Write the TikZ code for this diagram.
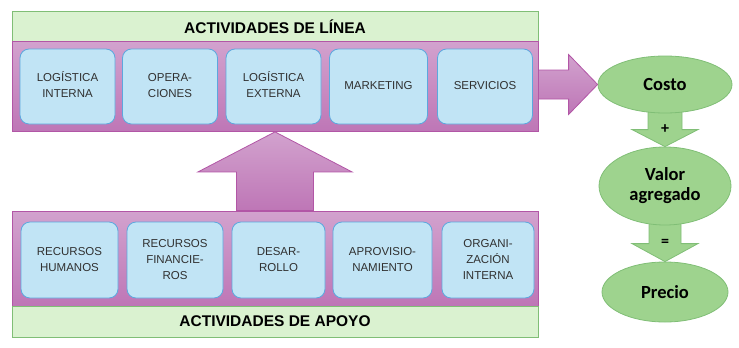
\documentclass[tikz,border=0pt]{standalone}
\usepackage{fontspec}
\setmainfont{Liberation Sans}
\newfontfamily\calibri{Carlito}
\usetikzlibrary{shapes.geometric,backgrounds}
\definecolor{verdebarra}{RGB}{218,242,208}
\definecolor{verdeborde}{RGB}{128,190,118}
\definecolor{verdeelipse}{RGB}{158,211,142}
\definecolor{moradoarriba}{RGB}{210,162,206}
\definecolor{moradoabajo}{RGB}{190,118,182}
\definecolor{moradoborde}{RGB}{178,86,166}
\definecolor{celeste}{RGB}{193,228,245}
\definecolor{celesteborde}{RGB}{92,168,222}
\definecolor{textogris}{RGB}{48,48,48}
\newcommand{\lineas}[1]{\raisebox{5pt}{\begin{tabular}{@{}c@{}}#1\end{tabular}}}
\begin{document}
\begin{tikzpicture}[x=1pt,y=-1pt,
  barra/.style={draw=verdeborde,fill=verdebarra,line width=0.8pt,minimum width=526pt,minimum height=30pt,inner sep=0pt,font=\fontsize{15.5}{16}\selectfont\bfseries},
  banda/.style={draw=moradoborde,line width=0.8pt,top color=moradoarriba,bottom color=moradoabajo,minimum width=526pt,inner sep=0pt},
  caja/.style={draw=celesteborde,fill=celeste,line width=0.8pt,rounded corners=9pt,minimum width=95pt,minimum height=75pt,inner sep=0pt,text=textogris,font=\fontsize{11.5}{16}\selectfont},
  elipse/.style={ellipse,draw=verdeborde,fill=verdeelipse,line width=0.8pt,inner sep=0pt,align=center,font=\calibri\fontsize{18.5}{20}\selectfont\bfseries},
  signo/.style={inner sep=0pt,font=\calibri\fontsize{16}{16}\selectfont\bfseries},
  flechamorada/.style={draw=moradoborde,line width=0.8pt,top color=moradoarriba,bottom color=moradoabajo},
  flechaverde/.style={draw=verdeborde,fill=verdeelipse,line width=0.8pt}]
\useasboundingbox (0,0) rectangle (739,348);
% actividades de linea
\node[barra] (tituloLinea) at (275,26.5) {ACTIVIDADES DE LÍNEA};
\node[banda,minimum height=90pt] (linea) at (275,86.5) {};
\node[caja] (logInterna) at (67.5,86.5) {\lineas{LOGÍSTICA\\INTERNA}};
\node[caja] (operaciones) at (170,86.5) {\lineas{OPERA-\\CIONES}};
\node[caja] (logExterna) at (273.5,86.5) {\lineas{LOGÍSTICA\\EXTERNA}};
\node[caja,minimum width=98pt] (marketing) at (378.5,86.5) {\lineas{MARKETING}};
\node[caja] (servicios) at (485,86.5) {\lineas{SERVICIOS}};
% actividades de apoyo
\node[banda,minimum height=95pt] (apoyo) at (275,258.5) {};
\node[barra,minimum height=31pt] (tituloApoyo) at (275,321.5) {ACTIVIDADES DE APOYO};
\node[caja,minimum height=76pt,minimum width=97pt] (recHumanos) at (69.5,260) {\lineas{RECURSOS\\HUMANOS}};
\node[caja,minimum height=76pt,minimum width=96pt] (recFinancieros) at (175,260) {\lineas{RECURSOS\\FINANCIE-\\ROS}};
\node[caja,minimum height=76pt,minimum width=93pt] (desarrollo) at (278.5,260) {\lineas{DESAR-\\ROLLO}};
\node[caja,minimum height=76pt,minimum width=99pt] (aprovisionamiento) at (382.5,260) {\lineas{APROVISIO-\\NAMIENTO}};
\node[caja,minimum height=76pt,minimum width=92pt] (organizacion) at (488,260) {\lineas{ORGANI-\\ZACIÓN\\INTERNA}};
% costo, valor, precio
\node[elipse,minimum width=134pt,minimum height=57pt] (costo) at (665,84.5) {Costo};
\node[elipse,minimum width=132pt,minimum height=78pt] (valor) at (665,186) {Valor\\agregado};
\node[elipse,minimum width=126pt,minimum height=60pt] (precio) at (665,292) {Precio};
% flechas
\draw[flechamorada] ([xshift=-38.5pt]apoyo.north) -- ([xshift=-38.5pt,yshift=-40pt]linea.south) -- ([xshift=-77pt,yshift=-40pt]linea.south) -- (linea.south) -- ([xshift=77pt,yshift=-40pt]linea.south) -- ([xshift=38.5pt,yshift=-40pt]linea.south) -- ([xshift=38.5pt]apoyo.north) -- cycle;
\draw[flechamorada] ([yshift=14.5pt]linea.east |- costo.west) -- ([xshift=-29pt,yshift=14.5pt]costo.west) -- ([xshift=-29pt,yshift=30pt]costo.west) -- (costo.west) -- ([xshift=-29pt,yshift=-30pt]costo.west) -- ([xshift=-29pt,yshift=-14.5pt]costo.west) -- ([yshift=-14.5pt]linea.east |- costo.west) -- cycle;
\begin{scope}[on background layer]
\draw[flechaverde] ([xshift=-17pt]costo.center) -- ([xshift=-17pt,yshift=17pt]valor.north) -- ([xshift=-33pt,yshift=17pt]valor.north) -- (valor.north) -- ([xshift=33pt,yshift=17pt]valor.north) -- ([xshift=17pt,yshift=17pt]valor.north) -- ([xshift=17pt]costo.center) -- cycle;
\draw[flechaverde] ([xshift=-16pt]valor.center) -- ([xshift=-16pt,yshift=18pt]precio.north) -- ([xshift=-33pt,yshift=18pt]precio.north) -- (precio.north) -- ([xshift=33pt,yshift=18pt]precio.north) -- ([xshift=16pt,yshift=18pt]precio.north) -- ([xshift=16pt]valor.center) -- cycle;
\end{scope}
\node[signo] (mas) at ([yshift=18pt]valor.north) {+};
\node[signo] (igual) at ([yshift=19pt]precio.north) {=};
\end{tikzpicture}
\end{document}
